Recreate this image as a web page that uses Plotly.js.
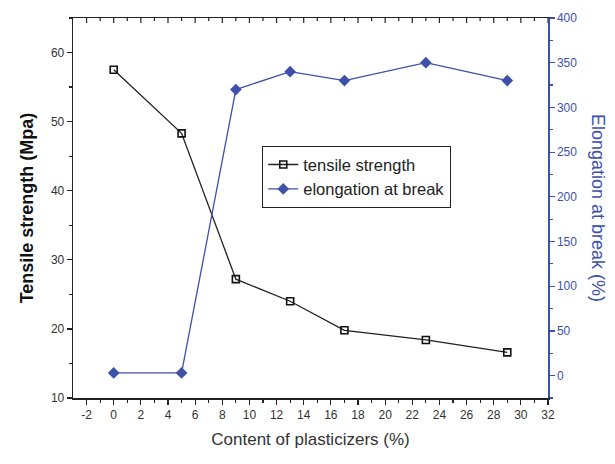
<!DOCTYPE html>
<html>
<head>
<meta charset="utf-8">
<script src="https://cdn.plot.ly/plotly-3.0.1.min.js"></script>
<style>html,body{margin:0;padding:0;background:#fff;}#chart{width:615px;height:464px;}</style>
</head>
<body>
<div id="chart"></div>
<script>
var plasticizerContent = [0, 5, 9, 13, 17, 23, 29];
var tensileStrength = [57.5, 48.3, 27.2, 24.0, 19.8, 18.4, 16.6];
var elongationAtBreak = [3, 3, 320, 340, 330, 350, 330];
var xTickVals = [-2, 0, 2, 4, 6, 8, 10, 12, 14, 16, 18, 20, 22, 24, 26, 28, 30, 32];
var xTickText = ['-2', '0', '2', '4', '6', '8', '10', '12', '14', '16', '18', '20', '22', '24', '26', '28', '30', '32'];
var xMinorTickVals = [-1, 1, 3, 5, 7, 9, 11, 13, 15, 17, 19, 21, 23, 25, 27, 29, 31];
var leftTickVals = [10, 20, 30, 40, 50, 60];
var rightTickVals = [0, 50, 100, 150, 200, 250, 300, 350, 400];

var blue = '#3d51aa';
var traces = [
  {
    x: plasticizerContent, y: tensileStrength, name: 'tensile strength',
    type: 'scatter', mode: 'lines+markers',
    line: {color: '#222', width: 1.3},
    marker: {symbol: 'square-open', size: 7, color: '#111', line: {width: 1.6}},
    xaxis: 'x', yaxis: 'y'
  },
  {
    x: plasticizerContent, y: elongationAtBreak, name: 'elongation at break',
    type: 'scatter', mode: 'lines+markers',
    line: {color: blue, width: 1.3},
    marker: {symbol: 'diamond', size: 9, color: blue},
    xaxis: 'x', yaxis: 'y2'
  }
];

// inward ticks along the top frame, placed through the x axis scale
var plotHeightPx = 464 - 18 - 66;
var topShapes = [];
xTickVals.forEach(function (v) {
  topShapes.push({type: 'line', xref: 'x', yref: 'paper', x0: v, x1: v, y0: 1, y1: 1 - 5 / plotHeightPx,
    line: {color: '#222', width: 1.2}});
});
xMinorTickVals.forEach(function (v) {
  topShapes.push({type: 'line', xref: 'x', yref: 'paper', x0: v, x1: v, y0: 1, y1: 1 - 3 / plotHeightPx,
    line: {color: '#222', width: 1.2}});
});

var tickFont = {family: 'Arial, Liberation Sans, sans-serif', size: 12, color: '#333'};
var layout = {
  width: 615, height: 464,
  margin: {l: 73, r: 67, t: 18, b: 66},
  paper_bgcolor: '#fff', plot_bgcolor: '#fff',
  showlegend: true,
  legend: {
    x: 0.398, y: 0.663, xanchor: 'left', yanchor: 'top',
    bordercolor: '#222', borderwidth: 1.2, bgcolor: '#fff',
    font: {family: 'Arial, Liberation Sans, sans-serif', size: 16.5, color: '#222'},
    tracegroupgap: 0
  },
  xaxis: {
    range: [-3, 32], tickvals: xTickVals, ticktext: xTickText, ticks: 'outside', ticklen: 5, tickwidth: 1.2,
    tickcolor: '#222', showline: true, linecolor: '#222', linewidth: 1.5, mirror: true,
    showgrid: false, zeroline: false, tickfont: tickFont,
    minor: {tickvals: xMinorTickVals, ticks: 'outside', ticklen: 3, tickcolor: '#222', showgrid: false},
    title: {text: 'Content of plasticizers (%)', font: {family: 'Arial, Liberation Sans, sans-serif', size: 17, color: '#333'}, standoff: 12}
  },
  yaxis: {
    range: [10, 65], tickvals: leftTickVals, ticks: 'outside', ticklen: 5, tickwidth: 1.2,
    tickcolor: '#222', showline: true, linecolor: '#222', linewidth: 1.3,
    showgrid: false, zeroline: false, tickfont: tickFont,
    minor: {dtick: 5, tick0: 0, ticks: 'outside', ticklen: 3, tickcolor: '#222', showgrid: false},
    title: {text: 'Tensile strength (Mpa)', font: {family: 'Arial, Liberation Sans, sans-serif', size: 18, color: '#111', weight: 'bold'}, standoff: 12}
  },
  yaxis2: {
    overlaying: 'y', anchor: 'x', side: 'right', range: [-25, 400], tickvals: rightTickVals,
    ticks: 'outside', ticklen: 5, tickwidth: 1.2, tickcolor: blue,
    showline: true, linecolor: blue, linewidth: 1.5,
    showgrid: false, zeroline: false, tickfont: {family: 'Arial, Liberation Sans, sans-serif', size: 12, color: blue},
    minor: {dtick: 25, tick0: 0, ticks: 'outside', ticklen: 3, tickcolor: blue, showgrid: false}
  },
  shapes: topShapes,
  annotations: [{
    text: 'Elongation at break (%)', textangle: 90, showarrow: false,
    xref: 'paper', yref: 'paper', x: 1, xshift: 50, y: 0.5, xanchor: 'center', yanchor: 'middle',
    font: {family: 'Arial, Liberation Sans, sans-serif', size: 18, color: blue}
  }]
};

Plotly.newPlot('chart', traces, layout, {displayModeBar: false, staticPlot: true});
</script>
</body>
</html>
